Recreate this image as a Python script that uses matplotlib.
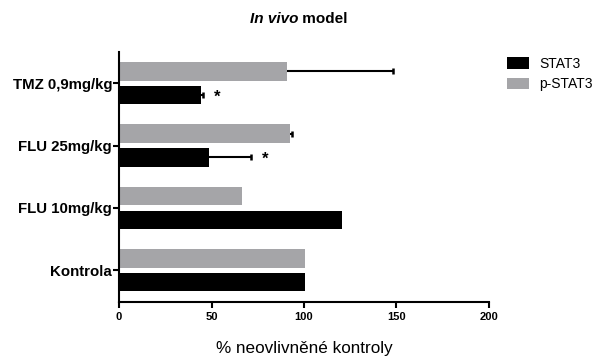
import matplotlib
matplotlib.use("Agg")
import matplotlib.pyplot as plt
import numpy as np

plt.rcParams['font.family'] = ['Liberation Sans', 'DejaVu Sans']

categories = ["Kontrola", "FLU 10mg/kg", "FLU 25mg/kg", "TMZ 0,9mg/kg"]
stat3 = [100.5, 120.7, 48.8, 44.2]
stat3_err = [0, 0, 22.4, 1.3]
pstat3 = [100.3, 66.3, 92.4, 90.8]
pstat3_err = [0, 0, 1.0, 57.5]
stat3_sig = ["", "", "*", "*"]
xticks = [0, 50, 100, 150, 200]

fig = plt.figure(figsize=(6.01, 3.58), dpi=100)
ax = fig.add_axes([119/601, (358-302)/358, (489-119)/601, (302-52)/358])

y = np.arange(len(categories))
h = 0.295
off = 0.19
ax.barh(y + off, pstat3, height=h, color="#a5a5a8", label="p-STAT3", zorder=2)
ax.barh(y - off, stat3, height=h, color="#000000", label="STAT3", zorder=2)


def right_err(v, yc, e):
    ax.hlines(yc, v, v + e, color="black", linewidth=1.5, zorder=3)
    ax.vlines(v + e, yc - 0.05, yc + 0.05, color="black", linewidth=1.8, zorder=3)


for yi, v, e in zip(y, pstat3, pstat3_err):
    if e > 0:
        right_err(v, yi + off, e)
for yi, v, e, s in zip(y, stat3, stat3_err, stat3_sig):
    if e > 0:
        right_err(v, yi - off, e)
    if s:
        ax.text(v + e + 6, yi - off - 0.03, s, ha="left", va="center",
                fontsize=12, fontweight="bold")

ax.set_xlim(0, 200)
ax.set_ylim(-0.51, 3.5)
ax.set_xticks(xticks)
ax.set_xticklabels([str(t) for t in xticks], fontsize=8, fontweight="bold")
ax.set_yticks(y)
ax.set_yticklabels(categories, fontsize=10.8, fontweight="bold")
ax.tick_params(axis="both", direction="out", length=4, width=1.5)
ax.tick_params(axis="x", pad=3)
ax.tick_params(axis="y", pad=1)
for sp in ["top", "right"]:
    ax.spines[sp].set_visible(False)
for sp in ["left", "bottom"]:
    ax.spines[sp].set_linewidth(1.5)

ax.set_xlabel("% neovlivněné kontroly", fontsize=12.3, labelpad=14)

t1 = fig.text(250/601, 1 - 19/358, "In vivo", ha="left", va="center",
              fontsize=11, fontweight="bold", fontstyle="italic")
fig.canvas.draw()
ax.annotate(" model", xy=(1, 0), xycoords=t1, ha="left", va="bottom",
            fontsize=11, fontweight="bold", annotation_clip=False)

handles, labels = ax.get_legend_handles_labels()
leg = fig.legend(handles[::-1], labels[::-1], loc="upper left",
                 bbox_to_anchor=(507/601, 1 - 57/358), frameon=False,
                 fontsize=10, handlelength=1.6, handleheight=0.9,
                 handletextpad=0.7, labelspacing=0.45,
                 borderpad=0, borderaxespad=0)

fig.savefig("out.png", dpi=100)
